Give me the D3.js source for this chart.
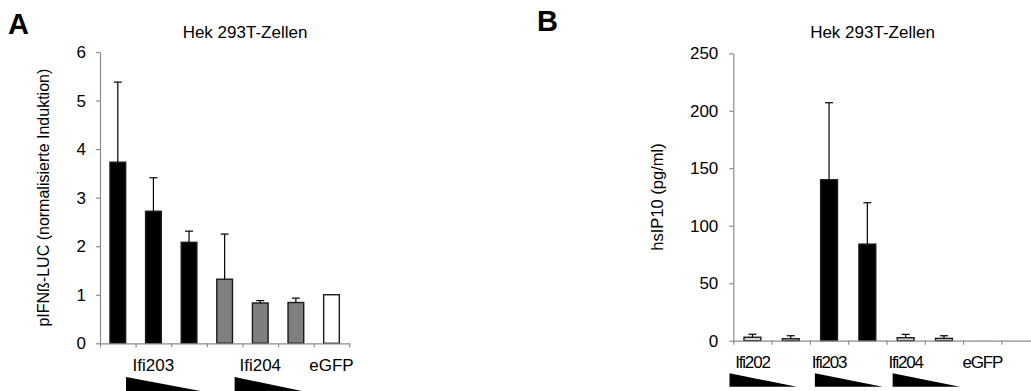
<!DOCTYPE html>
<html>
<head>
<meta charset="utf-8">
<script src="https://cdn.jsdelivr.net/npm/d3@7"></script>
<style>
  body { margin: 0; background: #fff; }
  svg { font-family: "Liberation Sans", Arial, sans-serif; display: block; }
</style>
</head>
<body>
<svg id="chart" width="1031" height="391"></svg>
<script>
// Panel A data
const catsA = ["", "Ifi203", "", "", "Ifi204", "", "eGFP"];
const valuesA = [3.73, 2.72, 2.08, 1.32, 0.83, 0.84, 1.0];
const errorsA = [1.65, 0.69, 0.23, 0.93, 0.05, 0.09, 0];
const fillsA = ["#000", "#000", "#000", "#7f7f7f", "#7f7f7f", "#7f7f7f", "#fff"];
const ticksA = [0, 1, 2, 3, 4, 5, 6];
const wedgesA = [[0.73, 2.97], [3.78, 5.8]]; // in category units

// Panel B data
const catsB = ["Ifi202", "", "Ifi203", "", "Ifi204", "", "eGFP", ""];
const valuesB = [3.0, 1.7, 140, 84, 2.6, 2.0, 0.3, 0];
const errorsB = [2.6, 2.6, 67, 36, 2.9, 2.3, 0, 0];
const fillsB = ["#d4d4d4", "#d4d4d4", "#000", "#000", "#d4d4d4", "#d4d4d4", "#bbb", "#fff"];
const ticksB = [0, 50, 100, 150, 200, 250];
const wedgesB = [[-0.1, 1.66], [2.13, 3.9], [4.16, 5.92]];

const svg = d3.select("#chart");

function panel(opt) {
    const g = svg.append("g");
    const n = opt.cats.length;

    const x = d3.scaleBand().domain(d3.range(n)).range(opt.xr).padding(0);
    const xi = d3.scaleLinear().domain([0, n]).range(opt.xr); // for tick marks between bars
    const y = d3.scaleLinear().domain([0, opt.ymax]).range(opt.yr);
    const bw = x.bandwidth() * opt.barFrac;

    // y axis
    g.append("g")
        .attr("transform", `translate(${opt.xr[0]},0)`)
        .call(d3.axisLeft(y).tickValues(opt.ticks).tickFormat(d3.format("d"))
            .tickSize(4).tickSizeOuter(0).tickPadding(opt.tickPad))
        .call(a => a.select(".domain").attr("stroke", "#8c8c8c").attr("stroke-width", 1.2))
        .call(a => a.selectAll(".tick line").attr("stroke", "#8c8c8c").attr("stroke-width", 1.2))
        .call(a => a.selectAll(".tick text")
            .attr("fill", "#000")
            .style("font-size", opt.tickFont + "px")
            .style("font-family", "'Liberation Sans', Arial, sans-serif"));

    // bars
    g.selectAll(".bar")
        .data(opt.values)
        .enter().append("rect")
        .attr("x", (d, i) => x(i) + (x.bandwidth() - bw) / 2)
        .attr("y", d => y(d))
        .attr("width", bw)
        .attr("height", d => y(0) - y(d))
        .attr("fill", (d, i) => opt.fills[i])
        .attr("stroke", (d, i) => opt.fills[i] === "#bbb" ? "none" : "#1a1a1a")
        .attr("stroke-width", 1.4);

    // error bars (upper only)
    opt.values.forEach((v, i) => {
        const e = opt.errors[i];
        if (!e) return;
        const cx = x(i) + x.bandwidth() / 2;
        g.append("line")
            .attr("x1", cx).attr("x2", cx)
            .attr("y1", y(v)).attr("y2", y(v + e))
            .attr("stroke", "#000").attr("stroke-width", 1.2);
        g.append("line")
            .attr("x1", cx - 4).attr("x2", cx + 4)
            .attr("y1", y(v + e)).attr("y2", y(v + e))
            .attr("stroke", "#000").attr("stroke-width", 1.2);
    });

    // x axis with ticks between categories
    g.append("g")
        .attr("transform", `translate(0,${y(0)})`)
        .call(d3.axisBottom(xi).tickValues(d3.range(n + 1)).tickSize(4).tickSizeOuter(0).tickFormat(""))
        .call(a => a.select(".domain").attr("stroke", "#8c8c8c").attr("stroke-width", 1.2))
        .call(a => a.selectAll(".tick line").attr("stroke", "#8c8c8c").attr("stroke-width", 1.2));

    // category labels
    g.selectAll(".cat")
        .data(opt.cats)
        .enter().append("text")
        .attr("x", (d, i) => x(i) + x.bandwidth() / 2)
        .attr("y", opt.catY)
        .attr("text-anchor", "middle")
        .style("font-size", opt.catFont + "px")
        .style("letter-spacing", opt.catSpacing + "px")
        .text(d => d);

    // dose wedges
    g.selectAll(".wedge")
        .data(opt.wedges)
        .enter().append("path")
        .attr("d", w => {
            const x0 = xi(w[0]), x1 = xi(w[1]);
            return `M${x0},${opt.wedgeY[0]}L${x1},${opt.wedgeY[1]}L${x0},${opt.wedgeY[1]}Z`;
        })
        .attr("fill", "#000");

    // title
    g.append("text")
        .attr("x", opt.titleX)
        .attr("y", 38)
        .attr("text-anchor", "middle")
        .style("font-size", "17px")
        .text("Hek 293T-Zellen");

    // y label
    const ymid = (opt.yr[0] + opt.yr[1]) / 2;
    g.append("text")
        .attr("transform", `translate(${opt.ylabX},${ymid}) rotate(-90)`)
        .attr("text-anchor", "middle")
        .attr("dy", "0.35em")
        .style("font-size", opt.ylabFont + "px")
        .text(opt.ylabel);

    // panel letter
    g.append("text")
        .attr("x", opt.letterPos[0])
        .attr("y", opt.letterPos[1])
        .style("font-size", "29px")
        .style("font-weight", "bold")
        .text(opt.letter);
}

panel({
    cats: catsA, values: valuesA, errors: errorsA, fills: fillsA, ticks: ticksA, wedges: wedgesA,
    xr: [100, 349.3], yr: [343.3, 52], ymax: 6, barFrac: 0.44,
    tickFont: 17, tickPad: 10, catY: 371, catFont: 17, catSpacing: 0,
    wedgeY: [377, 392], titleX: 245, ylabX: 43, ylabFont: 16,
    ylabel: "pIFNß-LUC (normalisierte Induktion)", letter: "A", letterPos: [8, 34]
});

panel({
    cats: catsB, values: valuesB, errors: errorsB, fills: fillsB, ticks: ticksB, wedges: wedgesB,
    xr: [733.3, 733.3 + 8 * 38.3], yr: [340.7, 53.3], ymax: 250, barFrac: 0.44,
    tickFont: 17, tickPad: 11, catY: 367.5, catFont: 17, catSpacing: -1.2,
    wedgeY: [373.3, 386.7], titleX: 872.5, ylabX: 657, ylabFont: 16.5,
    ylabel: "hsIP10 (pg/ml)", letter: "B", letterPos: [537, 31]
});
</script>
</body>
</html>
